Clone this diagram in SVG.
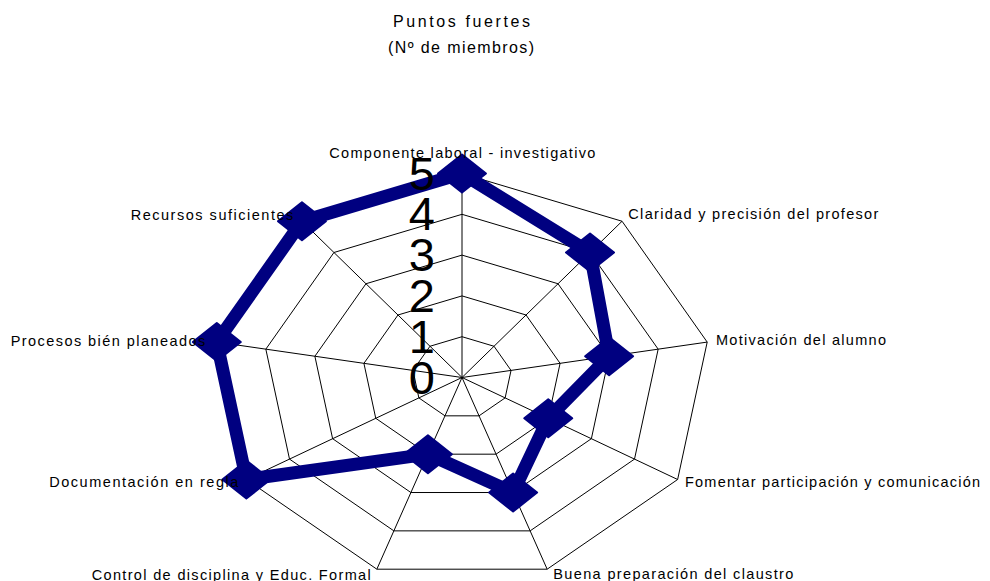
<svg xmlns="http://www.w3.org/2000/svg" width="990" height="581" viewBox="0 0 990 581">
<style>
.grid{fill:none;stroke:#000;stroke-width:1}
.lbl{font-family:"Liberation Sans",Arial,sans-serif;font-size:14.5px;fill:#000}
.ttl{font-family:"Liberation Sans",Arial,sans-serif;font-size:16px;fill:#000}
.num{font-family:"Liberation Sans",Arial,sans-serif;font-size:47px;fill:#000;text-anchor:end}
.series{fill:none;stroke:#000080;stroke-width:13;stroke-linejoin:round}
.mk{fill:#000080;stroke:#000080;stroke-width:2;stroke-linejoin:round}
</style>
<defs>
<polygon id="dia" points="0,-19 24,0 0,19 -24,0"/>
</defs>
<rect width="990" height="581" fill="#fff"/>
<g id="title">
<text class="ttl" x="393" y="27.3" textLength="137" lengthAdjust="spacing">Puntos fuertes</text>
<text class="ttl" x="388" y="52.5" textLength="146" lengthAdjust="spacing">(Nº de miembros)</text>
</g>
<g id="grid">
<polygon class="grid" points="462,336.7 494.01,346.25 511.04,370.42 505.13,397.9 479.03,415.84 444.97,415.84 418.87,397.9 412.96,370.42 429.99,346.25"/>
<polygon class="grid" points="462,295.9 526.02,314.99 560.08,363.33 548.25,418.3 496.06,454.18 427.94,454.18 375.75,418.3 363.92,363.33 397.98,314.99"/>
<polygon class="grid" points="462,255.1 558.03,283.74 609.12,356.25 591.38,438.7 513.1,492.52 410.9,492.52 332.62,438.7 314.88,356.25 365.97,283.74"/>
<polygon class="grid" points="462,214.3 590.04,252.49 658.16,349.16 634.5,459.1 530.13,530.86 393.87,530.86 289.5,459.1 265.84,349.16 333.96,252.49"/>
<polygon class="grid" points="462,173.5 622.05,221.24 707.2,342.08 677.63,479.5 547.16,569.2 376.84,569.2 246.37,479.5 216.8,342.08 301.95,221.24"/>
<path class="grid" d="M462,377.5L462,173.5M462,377.5L622.05,221.24M462,377.5L707.2,342.08M462,377.5L677.63,479.5M462,377.5L547.16,569.2M462,377.5L376.84,569.2M462,377.5L246.37,479.5M462,377.5L216.8,342.08M462,377.5L301.95,221.24"/>
</g>
<g id="series">
<polygon class="series" points="462,173.5 590.04,252.49 609.12,356.25 548.25,418.3 513.1,492.52 427.94,454.18 246.37,479.5 216.8,342.08 301.95,221.24"/>
<use href="#dia" class="mk" x="462" y="173.5"/>
<use href="#dia" class="mk" x="590.04" y="252.49"/>
<use href="#dia" class="mk" x="609.12" y="356.25"/>
<use href="#dia" class="mk" x="548.25" y="418.3"/>
<use href="#dia" class="mk" x="513.1" y="492.52"/>
<use href="#dia" class="mk" x="427.94" y="454.18"/>
<use href="#dia" class="mk" x="246.37" y="479.5"/>
<use href="#dia" class="mk" x="216.8" y="342.08"/>
<use href="#dia" class="mk" x="301.95" y="221.24"/>
</g>
<g id="scale">
<text class="num" x="435" y="393.5">0</text>
<text class="num" x="435" y="352.7">1</text>
<text class="num" x="435" y="311.9">2</text>
<text class="num" x="435" y="271.1">3</text>
<text class="num" x="435" y="230.3">4</text>
<text class="num" x="435" y="189.5">5</text>
</g>
<g id="labels">
<text id="ax0" class="lbl" x="329.3" y="158.3" textLength="266" lengthAdjust="spacing">Componente laboral - investigativo</text>
<text id="ax1" class="lbl" x="628.3" y="219.3" textLength="250" lengthAdjust="spacing">Claridad y precisión del profesor</text>
<text id="ax2" class="lbl" x="716" y="345" textLength="170" lengthAdjust="spacing">Motivación del alumno</text>
<text id="ax3" class="lbl" x="685" y="486.7" textLength="295" lengthAdjust="spacing">Fomentar participación y comunicación</text>
<text id="ax4" class="lbl" x="553.3" y="579" textLength="240" lengthAdjust="spacing">Buena preparación del claustro</text>
<text id="ax5" class="lbl" x="91.7" y="580" textLength="279" lengthAdjust="spacing">Control de disciplina y Educ. Formal</text>
<text id="ax6" class="lbl" x="49.3" y="486.7" textLength="189" lengthAdjust="spacing">Documentación en regla</text>
<text id="ax7" class="lbl" x="10.7" y="345.7" textLength="194.5" lengthAdjust="spacing">Procesos bién planeados</text>
<text id="ax8" class="lbl" x="130.7" y="220" textLength="162.6" lengthAdjust="spacing">Recursos suficientes</text>
</g>
</svg>
